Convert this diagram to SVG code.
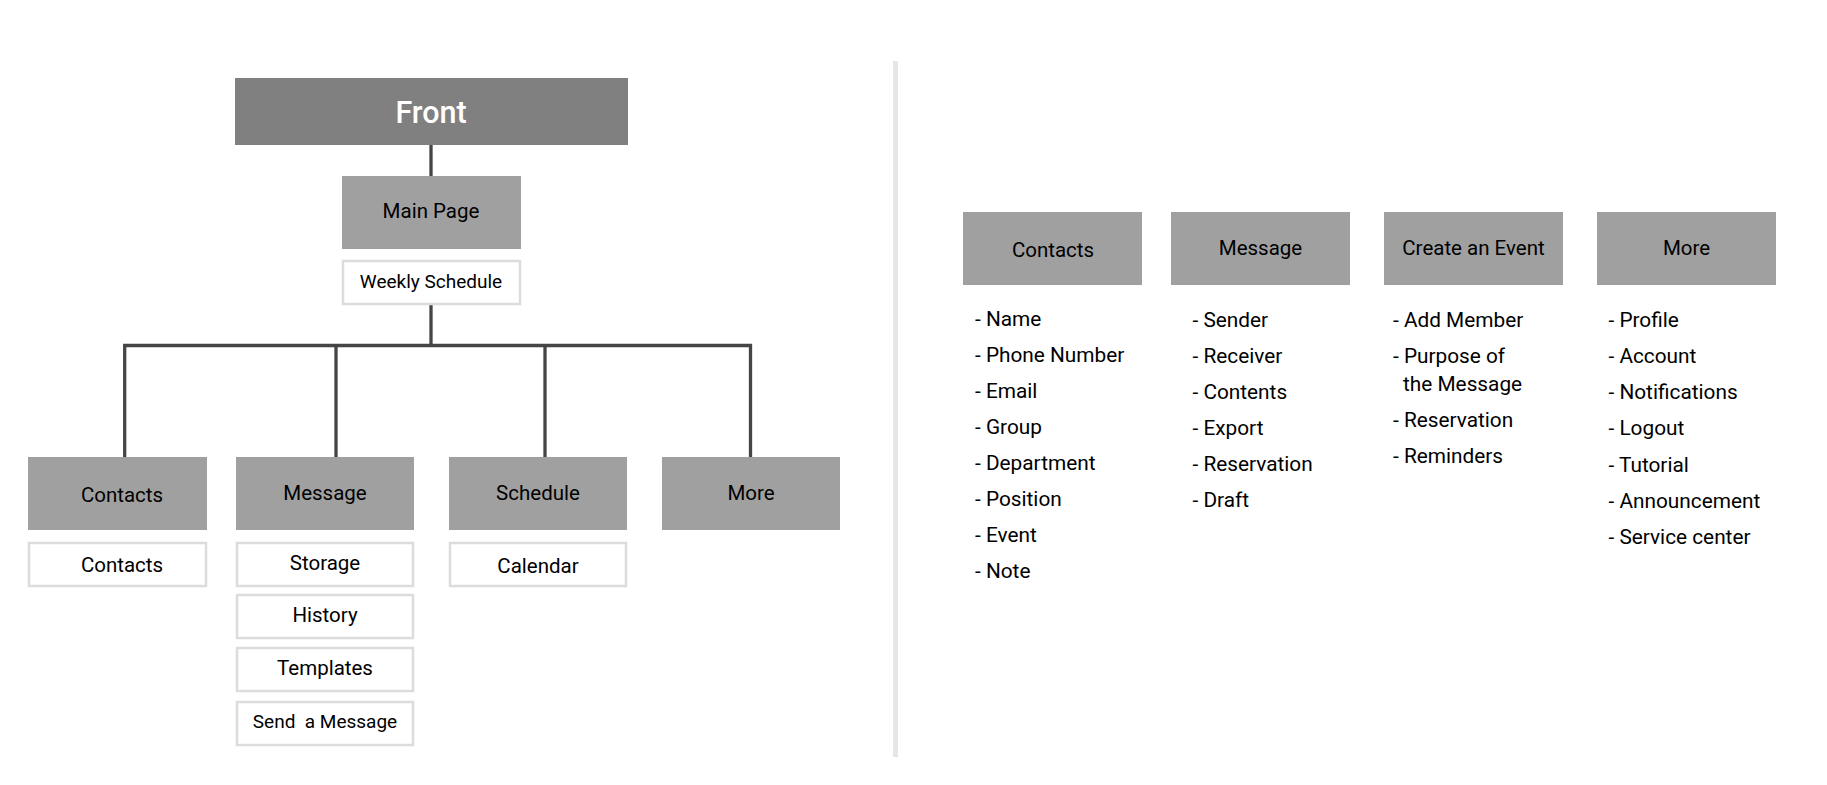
<svg xmlns="http://www.w3.org/2000/svg" width="1827" height="785" viewBox="0 0 1827 785">
<style>
text { font-family: Roboto, "Liberation Sans", sans-serif; fill: #000; }
.c { text-anchor: middle; }
.hd { fill: #a0a0a0; }
.sub { fill: #fff; stroke: #dcdcdc; stroke-width: 2.5; }
.lbl { font-size: 20.5px; }
.sm { font-size: 19px; }
.li { font-size: 20.8px; }
.conn { stroke: #454545; stroke-width: 3.3; fill: none; }
</style>
<rect width="1827" height="785" fill="#fff"/>
<rect id="divider" x="893" y="61" width="5" height="696" fill="#e6e6e6"/>

<g id="connectors">
  <line class="conn" x1="431" y1="144" x2="431" y2="176"/>
  <line class="conn" x1="431" y1="304" x2="431" y2="345.5"/>
  <polyline class="conn" points="124.7,457 124.7,345.5 750.5,345.5 750.5,457"/>
  <line class="conn" x1="336" y1="345.5" x2="336" y2="457"/>
  <line class="conn" x1="545" y1="345.5" x2="545" y2="457"/>
</g>

<g id="front">
  <rect x="235" y="78" width="393" height="67" fill="#808080"/>
  <text class="c" x="431" y="122.5" style="font-size:30.5px;font-weight:500;fill:#fff">Front</text>
</g>
<g id="main-page">
  <rect class="hd" x="342" y="176" width="179" height="73"/>
  <text class="c lbl" x="431" y="218">Main Page</text>
</g>
<g id="weekly-schedule">
  <rect class="sub" x="343" y="261" width="177" height="43"/>
  <text class="c sm" x="431" y="288">Weekly Schedule</text>
</g>

<g id="contacts">
  <rect class="hd" x="28" y="457" width="179" height="73"/>
  <text class="c lbl" x="122" y="502">Contacts</text>
</g>
<g id="contacts-sub">
  <rect class="sub" x="29" y="543" width="177" height="43"/>
  <text class="c lbl" x="122" y="572">Contacts</text>
</g>

<g id="message">
  <rect class="hd" x="236" y="457" width="178" height="73"/>
  <text class="c lbl" x="325" y="500">Message</text>
</g>
<g id="storage">
  <rect class="sub" x="237" y="543" width="176" height="43"/>
  <text class="c lbl" x="325" y="570">Storage</text>
</g>
<g id="history">
  <rect class="sub" x="237" y="595" width="176" height="43"/>
  <text class="c lbl" x="325" y="622">History</text>
</g>
<g id="templates">
  <rect class="sub" x="237" y="648" width="176" height="43"/>
  <text class="c lbl" x="325" y="675">Templates</text>
</g>
<g id="send-message">
  <rect class="sub" x="237" y="702" width="176" height="43"/>
  <text class="c sm" x="325" y="728" xml:space="preserve">Send  a Message</text>
</g>

<g id="schedule">
  <rect class="hd" x="449" y="457" width="178" height="73"/>
  <text class="c lbl" x="538" y="500">Schedule</text>
</g>
<g id="calendar">
  <rect class="sub" x="450" y="543" width="176" height="43"/>
  <text class="c lbl" x="538" y="573">Calendar</text>
</g>

<g id="more">
  <rect class="hd" x="662" y="457" width="178" height="73"/>
  <text class="c lbl" x="751" y="500">More</text>
</g>

<g id="r-contacts">
  <rect class="hd" x="963" y="212" width="179" height="73"/>
  <text class="c lbl" x="1053" y="257">Contacts</text>
  <g class="li">
    <text x="975" y="326">- Name</text>
    <text x="975" y="362">- Phone Number</text>
    <text x="975" y="398">- Email</text>
    <text x="975" y="434">- Group</text>
    <text x="975" y="470">- Department</text>
    <text x="975" y="506">- Position</text>
    <text x="975" y="542">- Event</text>
    <text x="975" y="578">- Note</text>
  </g>
</g>

<g id="r-message">
  <rect class="hd" x="1171" y="212" width="179" height="73"/>
  <text class="c lbl" x="1260.5" y="255">Message</text>
  <g class="li">
    <text x="1192.5" y="327">- Sender</text>
    <text x="1192.5" y="363">- Receiver</text>
    <text x="1192.5" y="399">- Contents</text>
    <text x="1192.5" y="435">- Export</text>
    <text x="1192.5" y="471">- Reservation</text>
    <text x="1192.5" y="507">- Draft</text>
  </g>
</g>

<g id="r-event">
  <rect class="hd" x="1384" y="212" width="179" height="73"/>
  <text class="c lbl" x="1473.5" y="255">Create an Event</text>
  <g class="li">
    <text x="1393" y="327">- Add Member</text>
    <text x="1393" y="363">- Purpose of</text>
    <text x="1403" y="391">the Message</text>
    <text x="1393" y="427">- Reservation</text>
    <text x="1393" y="463">- Reminders</text>
  </g>
</g>

<g id="r-more">
  <rect class="hd" x="1597" y="212" width="179" height="73"/>
  <text class="c lbl" x="1686.5" y="255">More</text>
  <g class="li">
    <text x="1608.5" y="327">- Profile</text>
    <text x="1608.5" y="363">- Account</text>
    <text x="1608.5" y="399">- Notifications</text>
    <text x="1608.5" y="435">- Logout</text>
    <text x="1608.5" y="471.5">- Tutorial</text>
    <text x="1608.5" y="507.5">- Announcement</text>
    <text x="1608.5" y="543.5">- Service center</text>
  </g>
</g>
</svg>
